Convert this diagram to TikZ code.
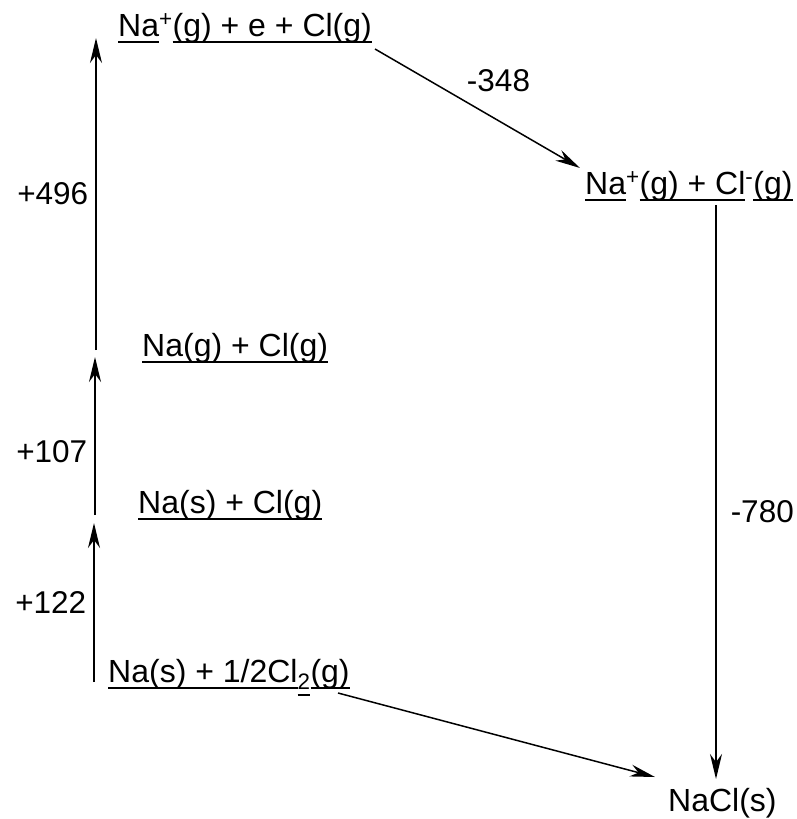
\documentclass[tikz,border=0pt]{standalone}
\usepackage{fontspec}
\setmainfont{Liberation Sans}
\usetikzlibrary{arrows.meta}
\newsavebox{\lvlbox}
\newcommand{\lvl}[1]{\sbox{\lvlbox}{#1}\rlap{\rule[-7pt]{\wd\lvlbox}{1.8pt}}\usebox{\lvlbox}}
\tikzstyle{level}=[inner sep=0pt,anchor=base west,font=\fontsize{32}{38}\selectfont]
\tikzstyle{edge} = [draw,line width=1.5pt,-{Stealth[length=25pt,width=12pt,inset=8pt]}]
\tikzstyle{weight} = [inner sep=0pt,font=\fontsize{31.5}{37}\selectfont]

\begin{document}
\begin{tikzpicture}[x=1pt,y=-1pt]
    \useasboundingbox (0,0) rectangle (797,819);

    % energy levels
    \node[level] (ionsE) at (118,36) {\lvl{Na}\textsuperscript{+}\lvl{(g) + e + Cl(g)}};
    \node[level] (ions) at (585,194) {\lvl{Na}\textsuperscript{+}\lvl{(g) + Cl}\textsuperscript{-}\lvl{(g)}};
    \node[level] (atoms) at (142,356) {\lvl{Na(g) + Cl(g)}};
    \node[level] (solidNa) at (138,513) {\lvl{Na(s) + Cl(g)}};
    \node[level] (elements) at (108,682) {\lvl{Na(s) + 1/2Cl}\textsubscript{\lvl{2}}\lvl{(g)}};
    \node[level] (salt) at (668,811) {NaCl(s)};

    \foreach \x/ \y/ \name in {94/682/a0,94/523/a1,95/515/b0,95/357/b1,
                               96/350/c0,96/38/c1,375/49/d0,580/168/d1,
                               716/205/e0,716/779/e1,338/693/f0,655/777/f1}
        \coordinate (\name) at (\x,\y);

    % Connect levels with arrows and draw energies
    \foreach \source/ \dest/ \weight/ \p/ \anc/ \dx/ \dy in {a0/a1/+122/0.5/east/-7pt/0pt,
                                                           b0/b1/+107/0.4/east/-7pt/0pt,
                                                           c0/c1/+496/0.5/east/-7pt/0pt,
                                                           d0/d1/-348/0.5/center/21pt/28pt,
                                                           e0/e1/-780/0.535/west/14pt/0pt}
        \draw[edge] (\source) -- node[weight,pos=\p,anchor=\anc,xshift=\dx,yshift=\dy] {\weight} (\dest);
    \draw[edge] (f0) -- (f1);
\end{tikzpicture}
\end{document}
